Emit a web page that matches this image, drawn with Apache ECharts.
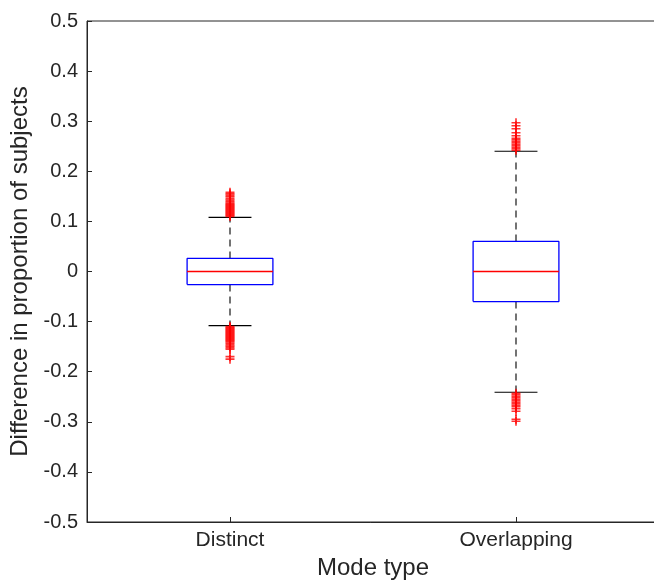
<!DOCTYPE html>
<html>
<head>
<meta charset="utf-8">
<script src="https://cdn.jsdelivr.net/npm/echarts@6/dist/echarts.min.js"></script>
<style>
  html, body { margin: 0; padding: 0; background: #fff; }
  #chart { width: 654px; height: 585px; }
</style>
</head>
<body>
<div id="chart"></div>
<script>
  // data
  var categories = ['Distinct', 'Overlapping'];
  var positions = [1, 2];
  // [low whisker, q1, median, q3, high whisker]
  var boxStats = [
    [-0.108, -0.026, 0, 0.026, 0.108],
    [-0.241, -0.060, 0, 0.060, 0.240]
  ];
  var distinctOutliers = [
    0.110, 0.112, 0.114, 0.116, 0.118, 0.120, 0.122, 0.124, 0.126, 0.128, 0.130,
    0.132, 0.134, 0.136, 0.139, 0.142, 0.145, 0.149, 0.152, 0.155, 0.158,
    -0.110, -0.112, -0.114, -0.116, -0.118, -0.120, -0.122, -0.124, -0.126, -0.128,
    -0.130, -0.132, -0.134, -0.136, -0.138, -0.140, -0.143, -0.146, -0.149,
    -0.152, -0.155, -0.170, -0.175
  ];
  var overlappingOutliers = [
    0.242, 0.245, 0.248, 0.251, 0.254, 0.257, 0.260, 0.263, 0.266,
    0.271, 0.277, 0.285, 0.291, 0.297,
    -0.243, -0.246, -0.249, -0.252, -0.255, -0.258, -0.261, -0.264, -0.267,
    -0.270, -0.274, -0.279, -0.295, -0.299
  ];

  var fontFam = '"Liberation Sans", Arial, Helvetica, sans-serif';
  var axisCol = '#262626';
  var plusSymbol = 'path://M4.1,0H5.9V4.1H10V5.9H5.9V10H4.1V5.9H0V4.1H4.1Z';
  var boxW = 0.3;   // in x-axis units, like matlab boxplot
  var capW = 0.15;

  function path(pts, color, width, dashed, z) {
    return {
      type: 'line',
      data: pts,
      symbol: 'none',
      silent: true,
      clip: false,
      z: z,
      lineStyle: { color: color, width: width, type: dashed ? [7, 5] : 'solid' }
    };
  }

  var series = [];
  boxStats.forEach(function (s, i) {
    var x = positions[i];
    var l = x - boxW / 2, r = x + boxW / 2;
    series.push(path([[x, s[3]], [x, s[4]]], '#000000', 1.1, true, 2));
    series.push(path([[x, s[1]], [x, s[0]]], '#000000', 1.1, true, 2));
    series.push(path([[x - capW / 2, s[4]], [x + capW / 2, s[4]]], '#000000', 1.1, false, 2));
    series.push(path([[x - capW / 2, s[0]], [x + capW / 2, s[0]]], '#000000', 1.1, false, 2));
    series.push(path([[l, s[1]], [r, s[1]], [r, s[3]], [l, s[3]], [l, s[1]]], '#0000ff', 1.3, false, 3));
    series.push(path([[l, s[2]], [r, s[2]]], '#ff0000', 1.3, false, 4));
  });

  var outlierData = [];
  distinctOutliers.forEach(function (v) { outlierData.push([positions[0], v]); });
  overlappingOutliers.forEach(function (v) { outlierData.push([positions[1], v]); });
  series.push({
    type: 'scatter',
    data: outlierData,
    symbol: plusSymbol,
    symbolSize: 9,
    silent: true,
    itemStyle: { color: '#ff0000' },
    z: 5
  });

  var chart = echarts.init(document.getElementById('chart'));
  chart.setOption({
    animation: false,
    backgroundColor: '#fff',
    grid: {
      left: 87, right: -5, top: 21, bottom: 63,
      outerBoundsMode: 'none',
      containLabel: false,
      show: true, borderColor: axisCol, borderWidth: 1, backgroundColor: 'transparent'
    },
    xAxis: {
      type: 'value',
      min: 0.5, max: 2.5,
      name: 'Mode type',
      nameLocation: 'middle',
      nameGap: 30,
      nameTextStyle: { fontSize: 24, color: axisCol, fontFamily: fontFam },
      axisLine: { onZero: false, lineStyle: { color: axisCol, width: 1 } },
      axisTick: { inside: true, length: 5, customValues: positions, lineStyle: { color: axisCol } },
      axisLabel: {
        fontSize: 21, color: axisCol, fontFamily: fontFam, margin: 8,
        customValues: positions,
        formatter: function (v) { return categories[Math.round(v) - 1] || ''; }
      },
      splitLine: { show: false }
    },
    yAxis: {
      type: 'value',
      min: -0.5, max: 0.5, interval: 0.1,
      name: 'Difference in proportion of subjects',
      nameLocation: 'middle',
      nameGap: 43,
      nameTextStyle: { fontSize: 24, color: axisCol, fontFamily: fontFam },
      axisLine: { show: true, onZero: false, lineStyle: { color: axisCol, width: 1 } },
      axisTick: { show: true, inside: true, length: 5, lineStyle: { color: axisCol } },
      axisLabel: {
        fontSize: 20, color: axisCol, fontFamily: fontFam, margin: 9,
        formatter: function (v) { return String(Number(v.toFixed(1))); }
      },
      splitLine: { show: false }
    },
    series: series
  });
</script>
</body>
</html>
